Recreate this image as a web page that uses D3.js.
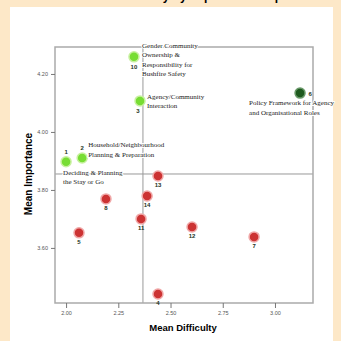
<!DOCTYPE html>
<html>
<head>
<meta charset="utf-8">
<script src="https://cdn.jsdelivr.net/npm/d3@7"></script>
<style>
  body { margin: 0; background: #fde8c8; }
  svg { display: block; }
</style>
</head>
<body>
<div id="chart"></div>
<script>
// values
const itemIds    = ["1", "2", "3", "10", "6", "13", "8", "14", "11", "5", "12", "4", "7"];
const difficulty = [2.00, 2.077, 2.354, 2.325, 3.120, 2.440, 2.191, 2.388, 2.359, 2.062, 2.603, 2.440, 2.900];
const importance = [3.897, 3.910, 4.107, 4.259, 4.134, 3.848, 3.769, 3.779, 3.700, 3.652, 3.672, 3.441, 3.638];
const group      = ["hi", "hi", "hi", "hi", "dark", "lo", "lo", "lo", "lo", "lo", "lo", "lo", "lo"];
const itemNames  = [
  ["Deciding & Planning", "the Stay or Go"],
  ["Household/Neighbourhood", "Planning & Preparation"],
  ["Agency/Community", "Interaction"],
  ["Gender Community", "Ownership &", "Responsibility for", "Bushfire Safety"],
  ["Policy Framework for Agency", "and Organisational Roles"],
  [], [], [], [], [], [], [], []
];
const xTicks = [2.00, 2.25, 2.50, 2.75, 3.00];
const yTicks = [3.60, 3.80, 4.00, 4.20];
const meanDifficulty = 2.368;
const meanImportance = 3.855;

const width = 341, height = 341;
const margin = { top: 47, right: 28, bottom: 38, left: 55 };

// label placement (dx, dy of the number, dx, dy of the name block)
const numOffset  = [[0, -10], [0, -10], [-2, 10], [0, 10], [10, 1], [0, 9], [0, 9], [0, 9], [0, 9], [0, 9], [0, 9], [0, 9], [0, 9]];
const nameOffset = [[-3, 13], [6, -11], [7, -2], [8, -9], [-51, 12], [0, 0], [0, 0], [0, 0], [0, 0], [0, 0], [0, 0], [0, 0], [0, 0]];

const color = { hi: "#77dd33", dark: "#1e5a1e", lo: "#cc3333" };
const halo  = { hi: "#c8f0a0", dark: "#6a9a6a", lo: "#f0a8a8" };

const svg = d3.select("#chart").append("svg")
  .attr("width", width)
  .attr("height", height);

// white panel over the peach page
svg.append("rect")
  .attr("x", 10).attr("y", 7)
  .attr("width", 323).attr("height", 334)
  .attr("fill", "#fff");

// cut-off title at the very top
svg.append("text")
  .attr("x", 200).attr("y", 0)
  .attr("text-anchor", "middle")
  .style("font-family", "Liberation Sans, Arial, sans-serif")
  .style("font-weight", "bold")
  .style("font-size", "12px")
  .text("Difficulty by Importance Map");

const x = d3.scaleLinear().domain([1.947, 3.182]).range([margin.left, width - margin.right]);
const y = d3.scaleLinear().domain([3.41, 4.293]).range([height - margin.bottom, margin.top]);

const data = itemIds.map((id, i) => ({
  id, dx: difficulty[i], im: importance[i], g: group[i], name: itemNames[i], i
}));

// reference lines
svg.append("line")
  .attr("x1", x(meanDifficulty)).attr("x2", x(meanDifficulty))
  .attr("y1", y.range()[1]).attr("y2", y.range()[0])
  .attr("stroke", "#999").attr("stroke-width", 1);
svg.append("line")
  .attr("x1", x.range()[0]).attr("x2", x.range()[1])
  .attr("y1", y(meanImportance)).attr("y2", y(meanImportance))
  .attr("stroke", "#999").attr("stroke-width", 1);

// frame
svg.append("rect")
  .attr("x", margin.left).attr("y", margin.top)
  .attr("width", width - margin.left - margin.right)
  .attr("height", height - margin.top - margin.bottom)
  .attr("fill", "none")
  .attr("stroke", "#aaa")
  .attr("stroke-width", 1.5);

// axes
const xAxis = svg.append("g")
  .attr("transform", `translate(0,${height - margin.bottom})`)
  .call(d3.axisBottom(x).tickValues(xTicks).tickFormat(d3.format(".2f")).tickSize(5).tickSizeOuter(0));
const yAxis = svg.append("g")
  .attr("transform", `translate(${margin.left},0)`)
  .call(d3.axisLeft(y).tickValues(yTicks).tickFormat(d3.format(".2f")).tickSize(4).tickSizeOuter(0));
[xAxis, yAxis].forEach(a => {
  a.select(".domain").remove();
  a.selectAll(".tick line").attr("stroke", "#777");
  a.selectAll(".tick text")
    .attr("fill", "#555")
    .style("font-family", "Liberation Sans, Arial, sans-serif")
    .style("font-size", "5.5px");
});

// points
const pts = svg.append("g").selectAll("g")
  .data(data).enter().append("g")
  .attr("transform", d => `translate(${x(d.dx)},${y(d.im)})`);

pts.append("circle")
  .attr("r", 5)
  .attr("fill", d => color[d.g])
  .attr("stroke", d => halo[d.g])
  .attr("stroke-width", 1.5);

pts.append("text")
  .attr("x", d => numOffset[d.i][0])
  .attr("y", d => numOffset[d.i][1])
  .attr("dy", "0.35em")
  .attr("text-anchor", "middle")
  .attr("fill", "#223322")
  .style("font-family", "Liberation Sans, Arial, sans-serif")
  .style("font-weight", "bold")
  .style("font-size", "6px")
  .text(d => d.id);

pts.filter(d => d.name.length > 0).append("text")
  .attr("x", d => nameOffset[d.i][0])
  .attr("y", d => nameOffset[d.i][1])
  .attr("fill", "#222")
  .attr("stroke", "#fff")
  .attr("stroke-width", 2)
  .style("paint-order", "stroke")
  .style("font-family", "Liberation Serif, Times New Roman, serif")
  .style("font-size", "7px")
  .selectAll("tspan")
  .data(d => d.name.map(t => ({ t, x0: nameOffset[d.i][0] })))
  .enter().append("tspan")
  .attr("x", t => t.x0)
  .attr("dy", (t, j) => j === 0 ? 0 : 9.5)
  .text(t => t.t);

// axis titles
svg.append("text")
  .attr("x", 183).attr("y", 331)
  .attr("text-anchor", "middle")
  .style("font-family", "Liberation Sans, Arial, sans-serif")
  .style("font-weight", "bold")
  .style("font-size", "9.5px")
  .text("Mean Difficulty");
svg.append("text")
  .attr("transform", "translate(32,174) rotate(-90)")
  .attr("text-anchor", "middle")
  .style("font-family", "Liberation Sans, Arial, sans-serif")
  .style("font-weight", "bold")
  .style("font-size", "10px")
  .text("Mean Importance");
</script>
</body>
</html>
